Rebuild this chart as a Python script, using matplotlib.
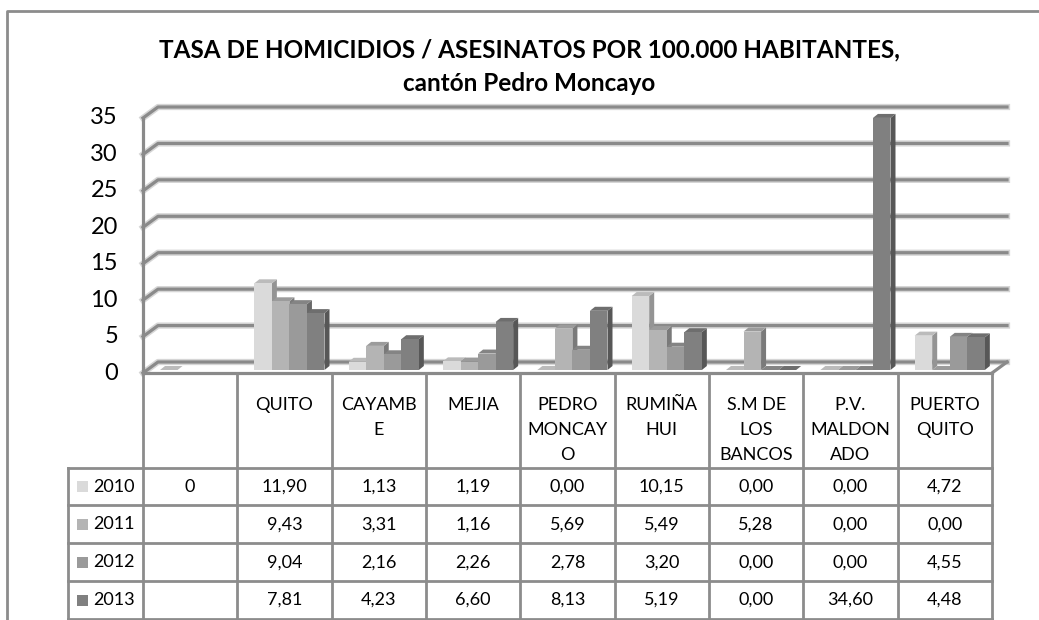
import matplotlib
matplotlib.use('Agg')
import matplotlib.pyplot as plt
from matplotlib.patches import Polygon, Rectangle
import matplotlib.colors as mcolors

# data
categories = ['', 'QUITO', 'CAYAMB\nE', 'MEJIA', 'PEDRO\nMONCAY\nO', 'RUMIÑA\nHUI',
              'S.M DE\nLOS\nBANCOS', 'P.V.\nMALDON\nADO', 'PUERTO\nQUITO']
years = ['2010', '2011', '2012', '2013']
v2010 = [0, 11.90, 1.13, 1.19, 0.00, 10.15, 0.00, 0.00, 4.72]
v2011 = [None, 9.43, 3.31, 1.16, 5.69, 5.49, 5.28, 0.00, 0.00]
v2012 = [None, 9.04, 2.16, 2.26, 2.78, 3.20, 0.00, 0.00, 4.55]
v2013 = [None, 7.81, 4.23, 6.60, 8.13, 5.19, 0.00, 34.60, 4.48]
series = [v2010, v2011, v2012, v2013]
yticks = [0, 5, 10, 15, 20, 25, 30, 35]

colors = ['#dadada', '#b4b4b4', '#9a9a9a', '#808080']
grid_c = '#8a8a8a'
line_c = '#8c8c8c'
FONT = 'Lato'


def shade(c, f):
    r, g, b = mcolors.to_rgb(c)
    return (r * f, g * f, b * f)


def fmt(v):
    if v is None:
        return ''
    if isinstance(v, int):
        return str(v)
    return f'{v:.2f}'.replace('.', ',')


W, H = 1039, 620
fig = plt.figure(figsize=(W / 100, H / 100), dpi=100)


def fx(px):
    return px / W


def fy(py):
    return 1 - py / H


# outer chart frame (top and left edges visible)
fig.add_artist(plt.Line2D([fx(7), fx(7), 1.0], [0.0, fy(11), fy(11)],
                          color=line_c, lw=2, transform=fig.transFigure))

# title
fig.text(fx(529), fy(57), 'TASA DE HOMICIDIOS / ASESINATOS POR 100.000 HABITANTES,',
         ha='center', va='baseline', fontsize=17.5, fontweight='bold', family=FONT)
fig.text(fx(529), fy(91), 'cantón Pedro Moncayo',
         ha='center', va='baseline', fontsize=17.5, fontweight='bold', family=FONT)

# chart area (front plane)
x_left, x_right, y_zero, y_top = 143, 992, 373, 118
ax = fig.add_axes([fx(x_left), fy(y_zero), fx(x_right) - fx(x_left), fy(y_top) - fy(y_zero)])
ncat = len(categories)
ax.set_xlim(0, ncat)
ax.set_ylim(0, 35)
ax.axis('off')

sx = (x_right - x_left) / ncat
sy = (y_zero - y_top) / 35
wdx, wdy = 15 / sx, 11 / sy     # wall depth
bdx, bdy = 5 / sx, 4 / sy       # bar depth

for v in yticks:
    xs = [0, wdx, ncat + wdx]
    ys = [v, v + wdy, v + wdy]
    ax.plot(xs, ys, color='#d6d6d6', lw=4.5, clip_on=False, zorder=1)
    ax.plot(xs, ys, color=grid_c, lw=2.3, clip_on=False, zorder=1.1)
    ax.text(-0.265, v, str(v), ha='right', va='center', fontsize=17, family=FONT)
ax.plot([0, 0], [0, 35], color=grid_c, lw=2.3, clip_on=False, zorder=1.1)
ax.plot([ncat, ncat + wdx], [0, wdy], color=grid_c, lw=2.3, clip_on=False, zorder=1.1)
ax.plot([0, ncat], [0, 0], color=grid_c, lw=2.3, clip_on=False, zorder=1.1)

# 3d-looking clustered bars
bw = 0.186
base = 0.41
for i in range(ncat):
    for j, s in enumerate(series):
        h = s[i]
        if h is None:
            continue
        x0 = i + 0.18 + j * bw
        x1 = x0 + bw
        z = 3 + j * 0.01
        top = base + h
        ax.add_patch(Polygon([(x1, base), (x1 + bdx, base + bdy), (x1 + bdx, top + bdy), (x1, top)],
                             closed=True, fc=shade(colors[j], 0.68), ec='none', zorder=z,
                             clip_on=False))
        ax.add_patch(Polygon([(x0, top), (x1, top), (x1 + bdx, top + bdy), (x0 + bdx, top + bdy)],
                             closed=True, fc=shade(colors[j], 0.86), ec='none', zorder=z + 0.001,
                             clip_on=False))
        if h > 0:
            ax.bar(x0, h, width=bw, bottom=base, align='edge', color=colors[j],
                   zorder=z + 0.002, clip_on=False)

# data table
t_bottom = 619
tax = fig.add_axes([fx(x_left), fy(t_bottom), fx(x_right) - fx(x_left), fy(y_zero) - fy(t_bottom)])
tax.set_xlim(0, ncat)
tax.set_ylim(0, 6.5)
tax.axis('off')
ry = (t_bottom - y_zero) / 6.5
xl = (68 - x_left) / sx
nrow = len(years)

for r in range(nrow + 1):
    tax.plot([xl, ncat], [r, r], color=line_c, lw=2, clip_on=False)
tax.plot([xl, xl], [0, nrow], color=line_c, lw=2, clip_on=False)
for c in range(ncat + 1):
    tax.plot([c, c], [0, 6.5], color=line_c, lw=2, clip_on=False)

for i, lab in enumerate(categories):
    for k, part in enumerate(lab.split('\n')):
        tax.text(i + 0.5, 6.5 - (405 - y_zero) / ry - k * 25 / ry, part,
                 ha='center', va='center', fontsize=13, family=FONT)

for j, s in enumerate(series):
    yc = nrow - j - 0.5
    tax.add_patch(Rectangle(((77 - x_left) / sx, yc - 5.5 / ry), 11 / sx, 11 / ry,
                            fc=colors[j], ec='none', clip_on=False))
    tax.text((93 - x_left) / sx, yc, years[j], ha='left', va='center',
             fontsize=13, family=FONT)
    for i, v in enumerate(s):
        tax.text(i + 0.5, yc, fmt(v), ha='center', va='center', fontsize=13, family=FONT)

fig.savefig('out.png', dpi=100)
